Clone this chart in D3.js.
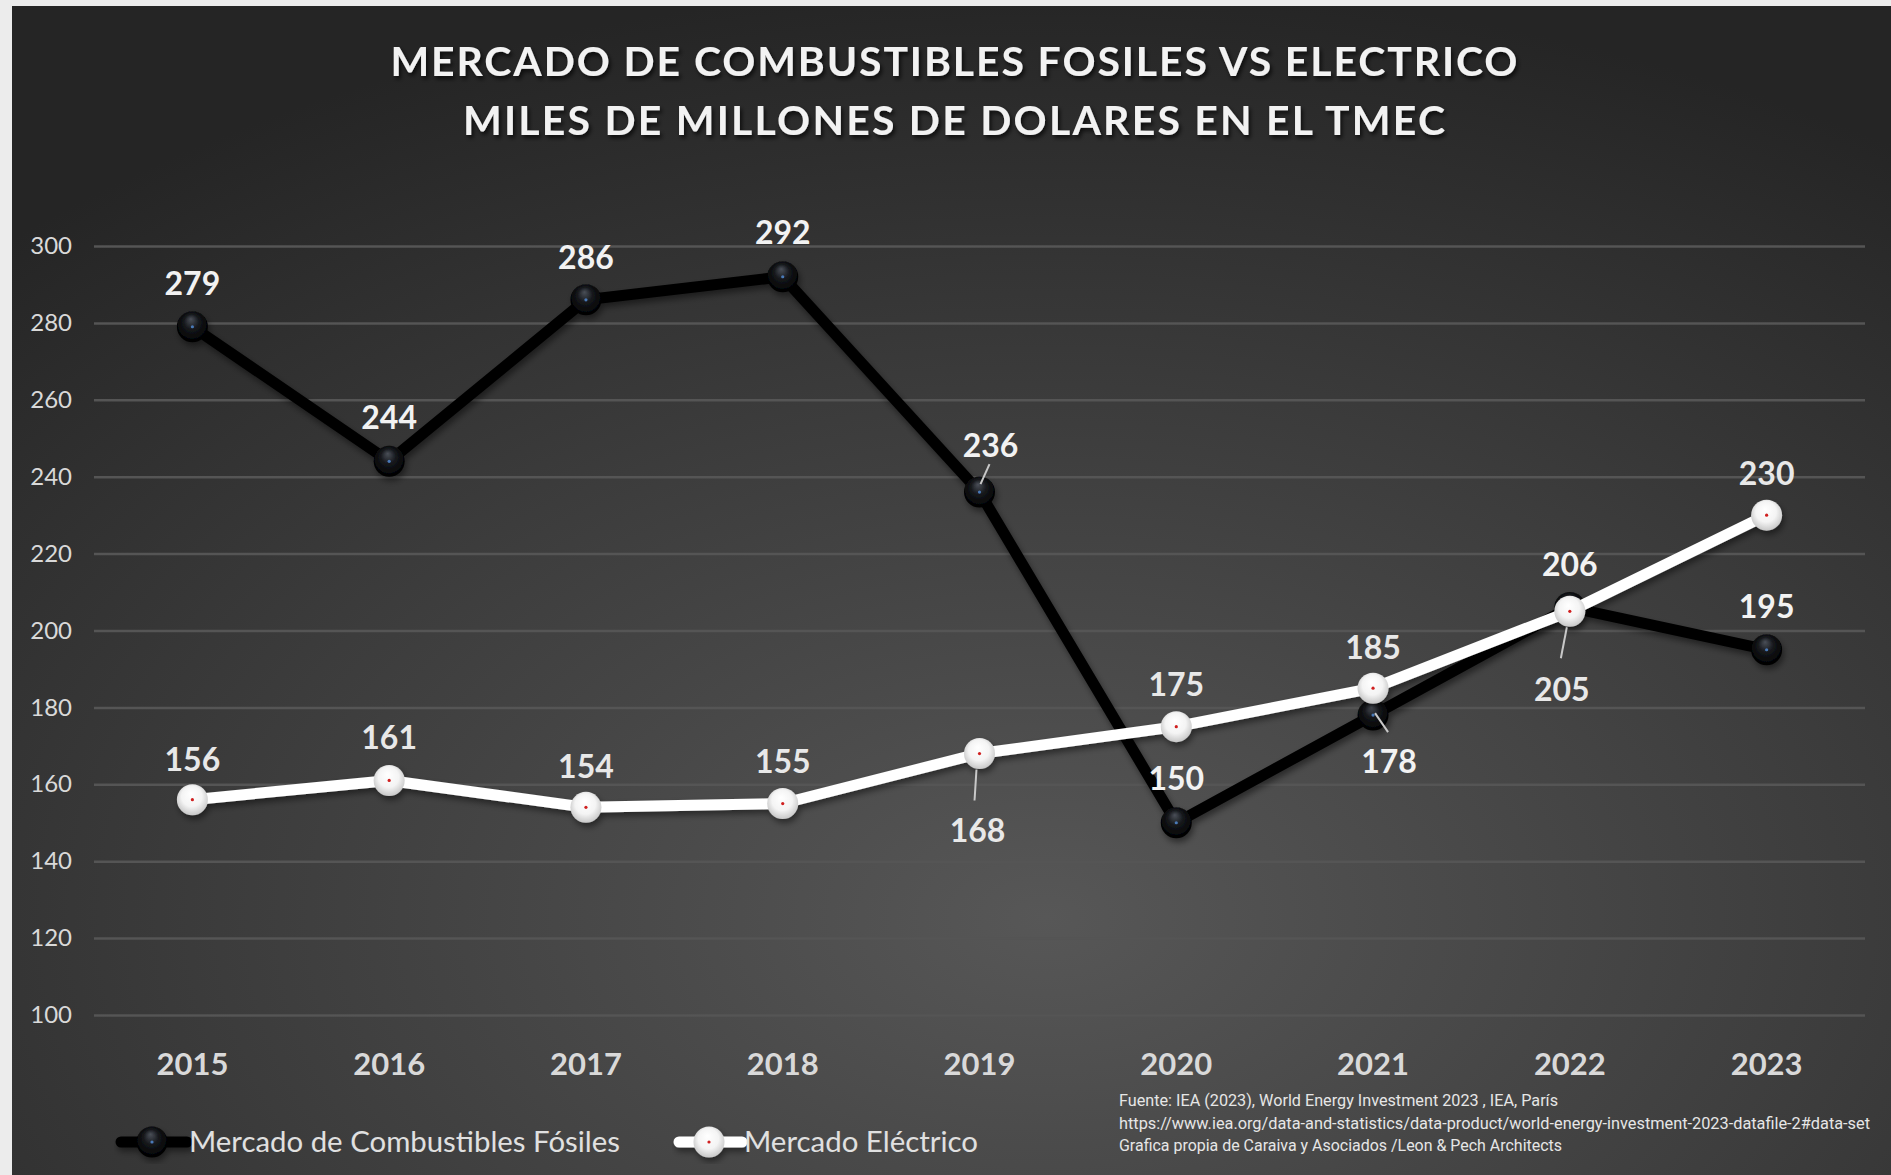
<!DOCTYPE html>
<html>
<head>
<meta charset="utf-8">
<script src="https://cdn.jsdelivr.net/npm/d3@7"></script>
<style>
  html, body { margin: 0; padding: 0; background: #ececec; }
  svg { display: block; }
</style>
</head>
<body>
<div id="chart"></div>
<script>
var years = ["2015", "2016", "2017", "2018", "2019", "2020", "2021", "2022", "2023"];
var fosiles = [279, 244, 286, 292, 236, 150, 178, 206, 195];
var electrico = [156, 161, 154, 155, 168, 175, 185, 205, 230];
var yTicks = [100, 120, 140, 160, 180, 200, 220, 240, 260, 280, 300];
var seriesNames = ["Mercado de Combustibles Fósiles", "Mercado Eléctrico"];
var titleLines = ["MERCADO DE COMBUSTIBLES FOSILES VS ELECTRICO", "MILES DE MILLONES DE DOLARES EN EL TMEC"];
var sourceLines = [
    "Fuente: IEA (2023), World Energy Investment 2023 , IEA, París",
    "https://www.iea.org/data-and-statistics/data-product/world-energy-investment-2023-datafile-2#data-set",
    "Grafica propia de Caraiva y Asociados /Leon & Pech Architects"
];

// label placement (offsets from the point, optional leader line)
var fosLabel = [
    {dx: 0, dy: -43}, {dx: 0, dy: -44}, {dx: 0, dy: -42}, {dx: 0, dy: -44},
    {dx: 11, dy: -47, lead: [10, -28, 1, -8]},
    {dx: 0, dy: -44},
    {dx: 16, dy: 46, lead: [2, -2, 15, 17]},
    {dx: 0, dy: -43}, {dx: 0, dy: -43}
];
var eleLabel = [
    {dx: 0, dy: -40}, {dx: 0, dy: -43}, {dx: 0, dy: -41}, {dx: 0, dy: -42},
    {dx: -2, dy: 77, lead: [-3, 16, -5, 47]},
    {dx: 0, dy: -42}, {dx: 0, dy: -41},
    {dx: -8, dy: 78, lead: [-3, 16, -9, 47]},
    {dx: 0, dy: -42}
];

var W = 1891, H = 1175;
var margin = {left: 94, right: 26, top: 246, bottom: 160};
var width = W - margin.left - margin.right,
    height = H - margin.top - margin.bottom;

var svg = d3.select("#chart").append("svg")
    .attr("width", W)
    .attr("height", H);

var defs = svg.append("defs");

var bg = defs.append("radialGradient").attr("id", "bg")
    .attr("cx", 0.55).attr("cy", 0.78).attr("r", 0.8);
bg.append("stop").attr("offset", 0).attr("stop-color", "#575757");
bg.append("stop").attr("offset", 0.55).attr("stop-color", "#3c3c3c");
bg.append("stop").attr("offset", 1).attr("stop-color", "#252525");

var gBlack = defs.append("radialGradient").attr("id", "ballBlack")
    .attr("cx", 0.5).attr("cy", 0.45).attr("r", 0.55).attr("fx", 0.45).attr("fy", 0.25);
gBlack.append("stop").attr("offset", 0).attr("stop-color", "#4a4f58");
gBlack.append("stop").attr("offset", 0.45).attr("stop-color", "#15171b");
gBlack.append("stop").attr("offset", 1).attr("stop-color", "#000000");

var gWhite = defs.append("radialGradient").attr("id", "ballWhite")
    .attr("cx", 0.5).attr("cy", 0.45).attr("r", 0.55).attr("fx", 0.45).attr("fy", 0.3);
gWhite.append("stop").attr("offset", 0).attr("stop-color", "#ffffff");
gWhite.append("stop").attr("offset", 0.6).attr("stop-color", "#f4f4f4");
gWhite.append("stop").attr("offset", 1).attr("stop-color", "#c8c8c8");

var shadow = defs.append("filter").attr("id", "shadow")
    .attr("x", "-10%").attr("y", "-10%").attr("width", "120%").attr("height", "130%");
shadow.append("feDropShadow").attr("dx", 2).attr("dy", 4).attr("stdDeviation", 3)
    .attr("flood-color", "#000").attr("flood-opacity", 0.45);

var tshadow = defs.append("filter").attr("id", "tshadow")
    .attr("x", "-5%").attr("y", "-20%").attr("width", "110%").attr("height", "160%");
tshadow.append("feDropShadow").attr("dx", 2).attr("dy", 3).attr("stdDeviation", 2)
    .attr("flood-color", "#000").attr("flood-opacity", 0.7);

// background panel
svg.append("rect").attr("width", W).attr("height", H).attr("fill", "#ececec");
svg.append("rect").attr("x", 12).attr("y", 6).attr("width", W - 12).attr("height", H - 6)
    .attr("fill", "url(#bg)");

// title
svg.selectAll(".title")
    .data(titleLines)
    .enter().append("text")
    .attr("class", "title")
    .attr("x", 954)
    .attr("y", function(d, i) { return 76 + i * 59; })
    .attr("text-anchor", "middle")
    .attr("textLength", function(d, i) { return i === 0 ? 1127 : 982; })
    .attr("lengthAdjust", "spacing")
    .style("font-family", "Lato, 'Open Sans', sans-serif")
    .style("font-weight", "bold")
    .style("font-size", "41px")
    .style("fill", "#f2f2f2")
    .attr("filter", "url(#tshadow)")
    .text(function(d) { return d; });

var chart = svg.append("g")
    .attr("transform", "translate(" + margin.left + "," + margin.top + ")");

var x = d3.scaleBand().domain(years).range([0, width]);
var y = d3.scaleLinear().domain([100, 300]).range([769, 0]);

function cx(i) { return x(years[i]) + x.bandwidth() / 2; }

// y axis + gridlines
var yAxis = chart.append("g")
    .attr("class", "y axis")
    .call(d3.axisLeft(y).tickValues(yTicks).tickSizeInner(-width).tickSizeOuter(0).tickPadding(22));
yAxis.select(".domain").remove();
yAxis.selectAll(".tick line").attr("stroke", "#555555").attr("stroke-width", 2.5);
yAxis.selectAll(".tick text")
    .style("font-family", "Lato, sans-serif")
    .style("font-size", "24px")
    .style("fill", "#d9d9d9");

// x axis
var xAxis = chart.append("g")
    .attr("class", "x axis")
    .attr("transform", "translate(0,769)")
    .call(d3.axisBottom(x).tickSize(0).tickPadding(38));
xAxis.select(".domain").remove();
xAxis.selectAll(".tick text")
    .style("font-family", "Lato, sans-serif")
    .style("font-weight", "bold")
    .style("font-size", "31px")
    .style("fill", "#d9d9d9");

var line = d3.line()
    .x(function(d, i) { return cx(i); })
    .y(function(d) { return y(d); });

var series = [
    {values: fosiles, color: "#000000", ball: "url(#ballBlack)", dot: "#4a7ab8", labels: fosLabel, text: "#f2f2f2"},
    {values: electrico, color: "#ffffff", ball: "url(#ballWhite)", dot: "#d02020", labels: eleLabel, text: "#e8e8e8"}
];

series.forEach(function(s) {
    var g = chart.append("g").attr("filter", "url(#shadow)");
    g.append("path")
        .datum(s.values)
        .attr("d", line)
        .attr("fill", "none")
        .attr("stroke", s.color)
        .attr("stroke-width", 11)
        .attr("stroke-linejoin", "round")
        .attr("stroke-linecap", "round");
    g.selectAll(".ball")
        .data(s.values)
        .enter().append("circle")
        .attr("cx", function(d, i) { return cx(i); })
        .attr("cy", function(d) { return y(d); })
        .attr("r", 15.5)
        .attr("fill", s.ball);
    chart.append("g").selectAll(".dot")
        .data(s.values)
        .enter().append("circle")
        .attr("cx", function(d, i) { return cx(i); })
        .attr("cy", function(d) { return y(d); })
        .attr("r", 1.6)
        .attr("fill", s.dot);
});

// data labels
series.forEach(function(s) {
    var g = chart.append("g");
    s.values.forEach(function(v, i) {
        var p = s.labels[i], px = cx(i), py = y(v);
        if (p.lead) {
            g.append("line")
                .attr("x1", px + p.lead[0]).attr("y1", py + p.lead[1])
                .attr("x2", px + p.lead[2]).attr("y2", py + p.lead[3])
                .attr("stroke", "#c8c8c8")
                .attr("stroke-width", 2);
        }
        g.append("text")
            .attr("x", px + p.dx)
            .attr("y", py + p.dy)
            .attr("dy", "0.36em")
            .attr("text-anchor", "middle")
            .style("font-family", "Lato, sans-serif")
            .style("font-weight", "bold")
            .style("font-size", "32px")
            .style("fill", s.text)
            .text(v);
    });
});

// legend
var legend = svg.append("g").attr("transform", "translate(0,1142)");
var legendX = [[121, 187, 152, 189, 431], [679, 742, 709, 744, 234]];
series.forEach(function(s, i) {
    var lx = legendX[i];
    var lg = legend.append("g").attr("filter", "url(#shadow)");
    lg.append("line")
        .attr("x1", lx[0]).attr("x2", lx[1]).attr("y1", 0).attr("y2", 0)
        .attr("stroke", s.color).attr("stroke-width", 11).attr("stroke-linecap", "round");
    lg.append("circle").attr("cx", lx[2]).attr("cy", 0).attr("r", 15.5).attr("fill", s.ball);
    legend.append("circle").attr("cx", lx[2]).attr("cy", 0).attr("r", 1.6).attr("fill", s.dot);
    legend.append("text")
        .attr("x", lx[3]).attr("y", 0).attr("dy", "0.36em")
        .attr("textLength", lx[4]).attr("lengthAdjust", "spacingAndGlyphs")
        .style("font-family", "Lato, sans-serif")
        .style("font-size", "28px")
        .style("fill", "#e0e0e0")
        .text(seriesNames[i]);
});

// source note
var srcWidths = [439, 751, 443];
svg.append("g").selectAll("text")
    .data(sourceLines)
    .enter().append("text")
    .attr("x", 1119)
    .attr("y", function(d, i) { return 1106 + i * 22.5; })
    .attr("textLength", function(d, i) { return srcWidths[i]; })
    .attr("lengthAdjust", "spacingAndGlyphs")
    .style("font-family", "'Liberation Sans Narrow', 'Roboto', sans-serif")
    .style("font-size", "16px")
    .style("fill", "#e6e6e6")
    .text(function(d) { return d; });
</script>
</body>
</html>
